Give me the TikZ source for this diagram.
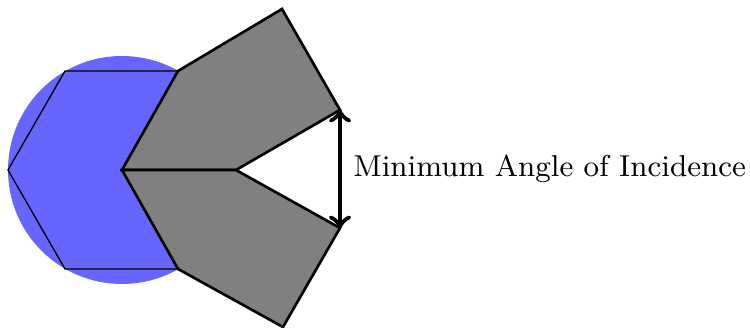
\documentclass[tikz,border=0pt]{standalone}
\begin{document}
\begin{tikzpicture}[x=0.3012pt,y=-0.3012pt,
  hexline/.style={draw=black,line width=0.4pt},
  wing/.style={fill=gray,draw=black,line width=0.8pt,line join=miter},
  gap/.style={<->,line width=1.4pt}]
\useasboundingbox (0,0) rectangle (750,328);
\coordinate (C) at (122,170);
\coordinate (L) at (8,170);
\coordinate (TL) at (65,71);
\coordinate (TR) at (178,71);
\coordinate (BL) at (65,269);
\coordinate (BR) at (178,269);
\coordinate (R) at (236,170);
\coordinate (UA) at (282,9);
\coordinate (UB) at (340,110);
\coordinate (LA) at (283,327);
\coordinate (LB) at (340,228);
\fill[blue!60] (C) circle [radius=114];
\draw[hexline] (R) -- (TR) -- (TL) -- (L) -- (BL) -- (BR) -- cycle;
\draw[wing] (C) -- (TR) -- (UA) -- (UB) -- (R) -- cycle;
\draw[wing] (C) -- (BR) -- (LA) -- (LB) -- (R) -- cycle;
\draw[gap] (UB) -- (LB) node[midway,right,font=\fontsize{9.1pt}{11pt}\selectfont] (lbl) {Minimum Angle of Incidence};
\end{tikzpicture}
\end{document}
